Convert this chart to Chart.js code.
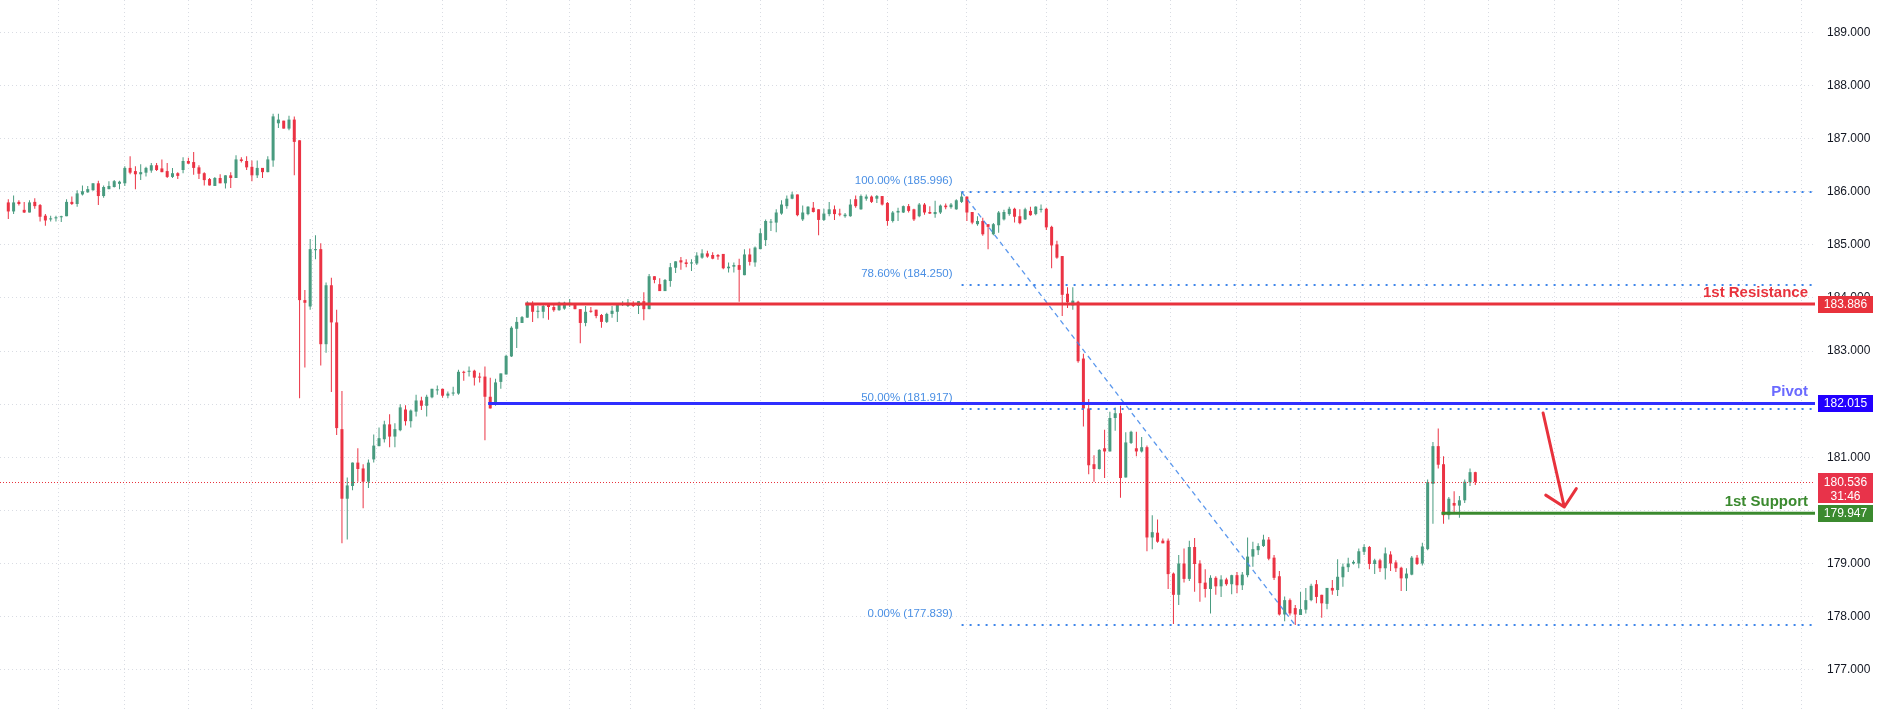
<!DOCTYPE html>
<html>
<head>
<meta charset="utf-8">
<title>Price chart</title>
<script src="https://cdn.jsdelivr.net/npm/chart.js@4.4.0/dist/chart.umd.min.js"></script>
<style>
  html, body { margin: 0; padding: 0; background: #ffffff; }
  #wrap { width: 1885px; height: 711px; }
</style>
</head>
<body>
<div id="wrap"><canvas id="chart" width="1885" height="711"></canvas></div>
<script>
// OHLC, one entry per candle
const opens = [
  185.80,185.63,185.81,185.66,185.61,185.81,185.75,185.55,185.48,185.50,
  185.52,185.54,185.81,185.77,185.95,185.99,186.03,186.16,185.92,186.05,
  186.09,186.15,186.16,186.45,186.39,186.33,186.36,186.40,186.50,186.44,
  186.39,186.28,186.35,186.41,186.58,186.56,186.46,186.35,186.24,186.11,
  186.26,186.16,186.31,186.26,186.61,186.58,186.47,186.31,186.45,186.37,
  186.59,187.29,187.34,187.19,187.36,186.97,183.96,183.84,184.90,184.92,
  183.13,184.24,183.54,181.53,180.22,180.46,180.90,180.79,180.54,180.96,
  181.21,181.34,181.62,181.39,181.51,181.90,181.68,181.86,182.07,181.97,
  182.13,182.26,182.29,182.16,182.20,182.20,182.61,182.61,182.63,182.52,
  182.52,182.14,181.99,182.42,182.56,182.90,183.42,183.53,183.63,183.87,
  183.74,183.74,183.87,183.83,183.77,183.80,183.89,183.87,183.79,183.53,
  183.76,183.78,183.68,183.55,183.70,183.74,183.87,183.85,183.89,183.85,
  183.94,183.79,184.41,184.26,184.13,184.32,184.57,184.71,184.67,184.65,
  184.65,184.76,184.84,184.81,184.81,184.83,184.56,184.59,184.62,184.43,
  184.82,184.67,184.92,185.09,185.42,185.42,185.59,185.73,185.87,185.95,
  185.48,185.58,185.70,185.67,185.47,185.58,185.67,185.59,185.54,185.54,
  185.86,185.67,185.87,185.91,185.87,185.92,185.79,185.45,185.61,185.61,
  185.73,185.67,185.54,185.76,185.62,185.58,185.61,185.74,185.71,185.67,
  185.81,185.91,185.62,185.39,185.45,185.39,185.20,185.37,185.48,185.58,
  185.68,185.54,185.48,185.64,185.58,185.66,185.68,185.34,185.01,184.79,
  184.08,183.86,183.93,182.86,181.92,180.87,180.78,181.17,181.11,181.74,
  181.83,180.62,181.27,181.17,181.11,181.19,179.49,179.58,179.43,179.43,
  178.81,178.41,179.00,178.71,179.31,179.00,178.64,178.52,178.73,178.57,
  178.70,178.61,178.78,178.59,178.78,179.13,179.25,179.33,179.45,179.11,
  178.76,178.04,178.31,178.16,178.03,178.13,178.31,178.61,178.41,178.24,
  178.54,178.50,178.74,178.93,179.00,179.00,179.22,179.31,178.99,179.06,
  178.91,179.17,179.02,178.92,178.72,178.79,179.11,179.00,179.27,180.50,
  181.21,180.87,179.91,180.14,180.09,180.19,180.53,180.72
];
const highs = [
  185.86,185.93,185.84,185.81,185.84,185.88,185.77,185.58,185.55,185.55,
  185.55,185.86,185.91,186.03,186.12,186.11,186.16,186.21,186.12,186.20,
  186.22,186.21,186.48,186.67,186.48,186.52,186.47,186.54,186.54,186.61,
  186.54,186.45,186.37,186.65,186.64,186.75,186.50,186.37,186.26,186.28,
  186.33,186.31,186.37,186.69,186.65,186.67,186.59,186.59,186.45,186.67,
  187.47,187.47,187.34,187.43,187.42,186.97,184.15,185.11,185.18,185.03,
  184.29,184.38,183.78,182.25,180.62,180.90,181.17,180.87,180.96,181.43,
  181.56,181.69,181.81,181.64,182.00,181.98,181.90,182.18,182.14,182.18,
  182.29,182.35,182.29,182.24,182.33,182.65,182.63,182.71,182.65,182.59,
  182.71,182.50,182.48,182.58,182.93,183.47,183.64,183.66,183.94,183.94,
  183.85,183.87,183.87,183.87,183.93,183.93,183.98,183.89,183.79,183.85,
  183.83,183.78,183.70,183.72,183.85,183.89,183.94,183.98,183.94,183.94,
  184.11,184.45,184.41,184.37,184.36,184.66,184.69,184.77,184.73,184.73,
  184.86,184.92,184.89,184.86,184.83,184.83,184.67,184.67,184.74,184.92,
  184.93,184.97,185.31,185.48,185.49,185.67,185.84,185.93,186.00,185.95,
  185.74,185.73,185.81,185.67,185.68,185.81,185.74,185.68,185.60,185.86,
  185.93,185.95,185.95,185.93,185.94,185.92,185.81,185.64,185.70,185.74,
  185.77,185.68,185.79,185.79,185.73,185.83,185.76,185.78,185.79,185.86,
  186.00,185.91,185.62,185.54,185.51,185.39,185.41,185.64,185.66,185.72,
  185.70,185.67,185.70,185.72,185.73,185.76,185.70,185.36,185.08,184.79,
  184.20,184.20,183.95,182.95,182.10,181.04,181.15,181.52,181.86,181.94,
  181.97,181.47,181.50,181.48,181.38,181.22,179.91,179.83,179.47,179.47,
  178.83,179.16,179.28,179.43,179.48,179.06,178.89,178.78,178.76,178.78,
  178.73,178.79,178.84,178.84,179.49,179.41,179.38,179.54,179.50,179.16,
  178.86,178.38,178.34,178.22,178.47,178.54,178.62,178.69,178.41,178.54,
  178.69,179.08,179.00,179.11,179.06,179.28,179.36,179.33,179.09,179.09,
  179.30,179.23,179.06,178.94,178.91,179.14,179.16,179.39,180.58,181.29,
  181.54,181.02,180.25,180.36,180.27,180.58,180.79,180.73
];
const lows = [
  185.49,185.58,185.74,185.60,185.61,185.68,185.44,185.36,185.44,185.44,
  185.43,185.54,185.75,185.72,185.93,185.98,186.02,185.75,185.89,186.05,
  186.08,186.05,186.11,186.33,186.05,186.22,186.29,186.36,186.39,186.37,
  186.26,186.26,186.24,186.35,186.53,186.32,186.24,186.12,186.12,186.11,
  186.16,186.06,186.07,186.26,186.55,186.41,186.20,186.26,186.26,186.37,
  186.47,187.20,187.19,187.16,186.31,182.11,182.69,183.78,184.73,182.73,
  182.97,182.23,181.42,179.38,179.45,180.38,180.54,180.04,180.42,180.90,
  181.21,181.28,181.19,181.19,181.49,181.60,181.56,181.77,181.89,181.77,
  182.11,182.18,182.12,182.11,182.16,182.18,182.44,182.52,182.35,182.41,
  181.32,181.92,181.97,182.29,182.56,182.89,183.06,183.53,183.63,183.55,
  183.62,183.62,183.59,183.74,183.76,183.78,183.83,183.79,183.15,183.47,
  183.72,183.62,183.44,183.53,183.63,183.55,183.85,183.83,183.83,183.70,
  183.58,183.79,184.28,184.13,184.13,184.21,184.47,184.53,184.58,184.51,
  184.62,184.74,184.76,184.73,184.72,184.54,184.48,184.48,183.93,184.43,
  184.61,184.59,184.92,184.98,185.26,185.24,185.57,185.68,185.86,185.54,
  185.45,185.56,185.61,185.18,185.45,185.54,185.47,185.54,185.51,185.53,
  185.70,185.66,185.83,185.79,185.79,185.74,185.36,185.42,185.45,185.60,
  185.61,185.45,185.52,185.57,185.58,185.51,185.58,185.67,185.68,185.66,
  185.79,185.45,185.39,185.36,185.17,184.92,185.18,185.23,185.46,185.55,
  185.42,185.39,185.47,185.55,185.56,185.61,185.28,184.56,184.74,183.66,
  183.81,183.78,182.78,181.58,180.68,180.54,180.77,180.61,181.11,181.50,
  180.24,180.62,181.25,181.02,181.09,179.23,179.27,179.39,179.38,178.52,
  177.86,178.22,178.64,178.67,178.47,178.28,178.36,178.06,178.41,178.37,
  178.58,178.42,178.44,178.50,178.74,178.94,179.16,179.31,179.06,178.69,
  178.02,177.91,178.02,177.84,178.03,178.06,178.29,178.25,177.98,178.14,
  178.41,178.39,178.56,178.84,178.98,178.91,179.16,178.89,178.80,178.84,
  178.70,178.86,178.84,178.48,178.48,178.78,178.97,178.96,179.25,179.75,
  180.79,179.75,179.83,179.97,179.86,180.14,180.46,180.48
];
const closes = [
  185.63,185.80,185.77,185.61,185.80,185.73,185.53,185.46,185.50,185.52,
  185.54,185.81,185.77,185.97,186.01,186.05,186.16,185.92,186.09,186.11,
  186.20,186.19,186.45,186.36,186.33,186.37,186.45,186.50,186.41,186.37,
  186.28,186.35,186.30,186.58,186.53,186.45,186.34,186.22,186.12,186.26,
  186.16,186.31,186.26,186.61,186.58,186.46,186.31,186.45,186.37,186.61,
  187.42,187.36,187.19,187.36,186.94,183.96,183.91,184.92,184.92,183.13,
  184.24,183.54,181.55,180.22,180.47,180.90,180.78,180.54,180.90,181.22,
  181.36,181.62,181.39,181.53,181.94,181.68,181.88,182.07,181.97,182.14,
  182.29,182.28,182.16,182.20,182.22,182.61,182.59,182.63,182.50,182.50,
  182.14,181.92,182.41,182.58,182.91,183.44,183.55,183.64,183.91,183.74,
  183.76,183.85,183.83,183.77,183.91,183.91,183.91,183.79,183.53,183.74,
  183.74,183.66,183.55,183.70,183.76,183.87,183.89,183.91,183.85,183.94,
  183.79,184.41,184.34,184.13,184.34,184.58,184.69,184.67,184.64,184.67,
  184.80,184.84,184.78,184.74,184.78,184.56,184.59,184.62,184.53,184.82,
  184.68,184.95,185.22,185.45,185.44,185.61,185.76,185.87,185.95,185.56,
  185.61,185.72,185.62,185.47,185.59,185.67,185.58,185.57,185.57,185.76,
  185.73,185.92,185.91,185.81,185.92,185.76,185.45,185.61,185.64,185.73,
  185.64,185.48,185.76,185.61,185.59,185.62,185.74,185.71,185.76,185.84,
  185.91,185.61,185.42,185.45,185.20,185.34,185.39,185.61,185.62,185.68,
  185.53,185.41,185.67,185.56,185.72,185.68,185.33,184.99,184.76,184.06,
  183.92,183.95,182.81,181.92,180.85,180.78,181.14,181.11,181.74,181.83,
  180.61,181.28,181.48,181.11,181.19,179.49,179.59,179.41,179.38,178.80,
  178.41,179.00,178.71,179.31,178.99,178.63,178.52,178.73,178.57,178.70,
  178.61,178.78,178.59,178.79,179.13,179.27,179.33,179.45,179.09,178.73,
  178.04,178.31,178.06,178.04,178.14,178.31,178.58,178.37,178.25,178.54,
  178.49,178.75,178.94,179.00,179.03,179.23,179.31,178.99,179.06,178.91,
  179.19,179.00,178.91,178.72,178.81,179.11,178.99,179.32,180.53,181.21,
  180.86,179.91,180.22,180.09,180.19,180.54,180.72,180.536
];

// price axis ticks and the session boundaries (candle index) used as vertical grid
const priceTicks = [177, 178, 179, 180, 181, 182, 183, 184, 185, 186, 187, 188, 189];
const timeGrid = [3, 16, 28, 40, 52, 63, 76, 88, 100, 112, 123, 136, 148, 160, 172,
                  190, 202, 213, 226, 238, 250, 262, 273, 286, 298, 310, 322, 333];

// levels
const resistance = 183.886, resistanceFrom = 97.6;
const pivot = 182.015, pivotFrom = 90.6;
const support = 179.947, supportFrom = 270.6;
const lastPrice = 180.536, countdown = '31:46';

// fibonacci retracement drawn from candle 180 (high) to candle 243 (low)
const fibPercents = ['100.00%', '78.60%', '50.00%', '0.00%'];
const fibValues = [185.996, 184.250, 181.917, 177.839];
const fibFrom = 180, fibTo = 243;

// arrow (candle index, price)
const arrowFrom = [289.8, 181.834];
const arrowTo = [293.8, 180.064];

const up = '#489b7f', down = '#eb3344';
const red = '#e8323c', blue = '#2f2fff', green = '#3b8a2f', fibBlue = '#3d85ea';
const font = '"Liberation Sans", Arial, sans-serif';

const idx = opens.map((_, i) => i);
const colorOf = c => closes[c.dataIndex] >= opens[c.dataIndex] ? up : down;

const overlay = {
  id: 'overlay',
  afterDatasetsDraw(chart) {
    const { ctx, chartArea: a, scales: { x, y } } = chart;
    const snap = v => Math.round(v) + 0.5;
    ctx.save();
    ctx.beginPath();
    ctx.rect(a.left, a.top, a.right - a.left, a.bottom - a.top);
    ctx.clip();

    // last price dotted line
    ctx.strokeStyle = red;
    ctx.lineWidth = 1;
    ctx.setLineDash([1, 2]);
    ctx.beginPath();
    ctx.moveTo(a.left, snap(y.getPixelForValue(lastPrice)));
    ctx.lineTo(a.right, snap(y.getPixelForValue(lastPrice)));
    ctx.stroke();

    // fib levels
    const fx = x.getPixelForValue(fibFrom);
    ctx.strokeStyle = fibBlue;
    ctx.lineWidth = 2;
    ctx.setLineDash([2, 6]);
    fibValues.forEach(v => {
      const py = Math.round(y.getPixelForValue(v));
      ctx.beginPath();
      ctx.moveTo(fx, py);
      ctx.lineTo(a.right, py);
      ctx.stroke();
    });
    ctx.fillStyle = '#4a8fe4';
    ctx.font = '11.5px ' + font;
    ctx.textAlign = 'right';
    ctx.textBaseline = 'middle';
    fibValues.forEach((v, i) => {
      ctx.fillText(fibPercents[i] + ' (' + v.toFixed(3) + ')', fx - 9, y.getPixelForValue(v) - 11);
    });

    // fib trend line
    ctx.strokeStyle = 'rgba(61,133,234,0.85)';
    ctx.lineWidth = 1.3;
    ctx.setLineDash([5, 4]);
    ctx.beginPath();
    ctx.moveTo(fx, y.getPixelForValue(fibValues[0]));
    ctx.lineTo(x.getPixelForValue(fibTo), y.getPixelForValue(fibValues[3]));
    ctx.stroke();
    ctx.setLineDash([]);

    // support / resistance / pivot
    const level = (v, from, color, text, textColor) => {
      const py = y.getPixelForValue(v);
      ctx.strokeStyle = color;
      ctx.lineWidth = 3;
      ctx.beginPath();
      ctx.moveTo(x.getPixelForValue(from), py);
      ctx.lineTo(a.right, py);
      ctx.stroke();
      ctx.fillStyle = textColor;
      ctx.font = 'bold 15px ' + font;
      ctx.textAlign = 'right';
      ctx.textBaseline = 'alphabetic';
      ctx.fillText(text, a.right - 7, py - 7);
    };
    level(resistance, resistanceFrom, red, '1st Resistance', red);
    level(pivot, pivotFrom, blue, 'Pivot', '#6a6aff');
    level(support, supportFrom, green, '1st Support', green);

    // arrow
    const x1 = x.getPixelForValue(arrowFrom[0]), y1 = y.getPixelForValue(arrowFrom[1]);
    const x2 = x.getPixelForValue(arrowTo[0]), y2 = y.getPixelForValue(arrowTo[1]);
    const ang = Math.atan2(y1 - y2, x1 - x2);
    ctx.strokeStyle = red;
    ctx.lineWidth = 3;
    ctx.lineCap = 'round';
    ctx.beginPath();
    ctx.moveTo(x1, y1);
    ctx.lineTo(x2, y2);
    [-0.78, 0.8].forEach(d => {
      ctx.moveTo(x2, y2);
      ctx.lineTo(x2 + 22 * Math.cos(ang + d), y2 + 22 * Math.sin(ang + d));
    });
    ctx.stroke();
    ctx.restore();
  },
  afterDraw(chart) {
    const { ctx, chartArea: a, scales: { y } } = chart;
    const left = a.right + 3, w = 55;
    ctx.save();
    ctx.font = '12px ' + font;
    ctx.textAlign = 'center';
    ctx.textBaseline = 'middle';
    const tag = (v, color, h, lines) => {
      const py = y.getPixelForValue(v);
      ctx.fillStyle = color;
      ctx.fillRect(left, Math.round(py - 8.5), w, h);
      ctx.fillStyle = '#ffffff';
      lines.forEach((t, i) => ctx.fillText(t, left + w / 2, py + 0.5 + i * 14));
    };
    tag(resistance, red, 17, [resistance.toFixed(3)]);
    tag(pivot, '#2200ff', 17, [pivot.toFixed(3)]);
    tag(lastPrice, '#e8334a', 30, [lastPrice.toFixed(3), countdown]);
    tag(support, green, 17, [support.toFixed(3)]);
    ctx.restore();
  }
};

const gridOpts = { color: '#d9dce3', lineWidth: 1, drawTicks: false };

new Chart(document.getElementById('chart').getContext('2d'), {
  type: 'bar',
  data: {
    datasets: [
      {
        label: 'wick',
        data: idx.map(i => ({ x: i, y: [lows[i], highs[i]] })),
        backgroundColor: colorOf,
        barThickness: 1,
        grouped: false,
        inflateAmount: 0,
        order: 2
      },
      {
        label: 'body',
        data: idx.map(i => ({ x: i, y: [opens[i], closes[i]] })),
        backgroundColor: colorOf,
        barThickness: 3,
        minBarLength: 1,
        grouped: false,
        inflateAmount: 0,
        order: 1
      }
    ]
  },
  options: {
    responsive: false,
    animation: false,
    events: [],
    layout: { padding: 0 },
    plugins: { legend: { display: false }, tooltip: { enabled: false } },
    scales: {
      x: {
        type: 'linear',
        min: -1.567,
        max: 341.14,
        offset: false,
        afterBuildTicks: s => { s.ticks = timeGrid.map(v => ({ value: v })); },
        afterFit: s => { s.height = 0; s.paddingLeft = 0; s.paddingRight = 0; },
        ticks: { display: false },
        grid: gridOpts,
        border: { display: false, dash: [1, 3] }
      },
      y: {
        position: 'right',
        min: 176.222,
        max: 189.612,
        afterBuildTicks: s => { s.ticks = priceTicks.map(v => ({ value: v })); },
        afterFit: s => { s.width = 70; s.paddingTop = 0; s.paddingBottom = 0; },
        ticks: {
          padding: 12,
          color: '#131722',
          font: { family: font, size: 12 },
          callback: v => Number(v).toFixed(3)
        },
        grid: gridOpts,
        border: { display: false, dash: [1, 3] }
      }
    }
  },
  plugins: [overlay]
});
</script>
</body>
</html>
